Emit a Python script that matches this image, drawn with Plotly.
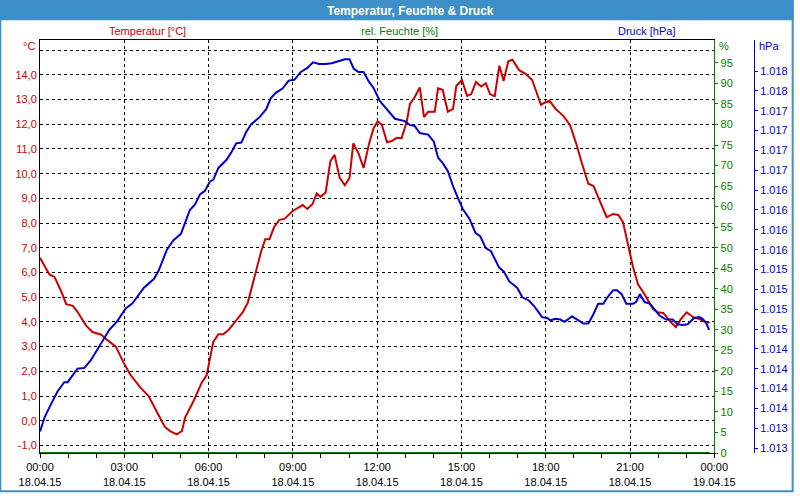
import plotly.graph_objects as go
import pandas as pd

DAY = "2015-04-18 "

temp_times = ["00:00","00:20","00:31","00:45","00:56","01:10","01:20","01:38","01:52","02:10",
              "02:24","02:42","02:59","03:13","03:35","03:52","04:10","04:27","04:38","04:52",
              "05:03","05:10","05:28","05:45","05:56","06:06","06:10","06:21","06:31","06:42",
              "06:56","07:13","07:24","07:31","07:42","07:52","08:01","08:10","08:20","08:31",
              "08:42","08:59","09:21","09:31","09:42","09:51","09:59","10:10","10:20","10:29",
              "10:40","10:51","11:01","11:09","11:20","11:31","11:42","11:52","12:01","12:10",
              "12:21","12:31","12:42","12:52","13:03","13:10","13:20","13:31","13:40","13:49",
              "14:03","14:10","14:20","14:31","14:42","14:49","15:01","15:12","15:21","15:31",
              "15:42","15:52","16:01","16:11","16:21","16:30","16:40","16:49","17:03","17:17",
              "17:31","17:42","17:50","17:56","18:08","18:21","18:38","18:52","19:06","19:17",
              "19:31","19:42","19:56","20:10","20:24","20:35","20:45","20:56","21:06","21:17",
              "21:31","21:49","21:59","22:11","22:27","22:38","22:49","23:01","23:15","23:28",
              "23:38","23:50"]
temp_vals = [6.6,5.92,5.82,5.25,4.72,4.65,4.41,3.86,3.59,3.49,
             3.26,3.00,2.33,1.86,1.33,1.00,0.34,-0.26,-0.42,-0.55,
             -0.42,0.14,0.80,1.53,1.85,2.73,3.19,3.50,3.50,3.66,
             3.99,4.39,4.79,5.32,6.12,6.84,7.35,7.35,7.84,8.13,
             8.17,8.48,8.73,8.57,8.77,9.20,9.06,9.24,10.5,10.76,
             9.83,9.53,9.83,11.23,10.83,10.23,11.16,11.82,12.12,11.98,
             11.27,11.32,11.45,11.43,12.09,12.82,13.09,13.49,12.29,12.51,
             12.51,13.45,13.39,12.51,12.62,13.55,13.79,13.15,13.22,13.71,
             13.53,13.66,13.22,13.13,14.37,13.75,14.55,14.61,14.19,14.04,
             13.79,13.22,12.78,12.86,12.95,12.62,12.33,11.96,11.16,10.43,
             9.59,9.50,8.90,8.24,8.37,8.33,8.04,7.11,6.25,5.52,
             5.12,4.52,4.39,4.36,3.99,3.79,4.12,4.39,4.19,4.12,
             4.02,3.96]

press_times = ["00:00","00:10","00:24","00:38","00:52","00:59","01:20","01:35","01:49","02:06",
               "02:28","02:45","03:03","03:17","03:42","04:03","04:13","04:31","04:45","05:01",
               "05:20","05:31","05:42","05:52","06:03","06:10","06:21","06:38","06:49","06:59",
               "07:10","07:20","07:31","07:49","08:03","08:13","08:24","08:38","08:51","09:03",
               "09:17","09:31","09:43","09:56","10:10","10:23","10:37","10:51","11:01","11:10",
               "11:20","11:31","11:42","11:52","12:06","12:21","12:38","12:59","13:10","13:20",
               "13:31","13:49","14:01","14:10","14:20","14:31","14:42","14:52","15:03","15:17",
               "15:30","15:40","15:52","16:03","16:20","16:31","16:42","16:59","17:10","17:24",
               "17:35","17:45","17:52","18:03","18:10","18:21","18:31","18:40","18:56","19:10",
               "19:20","19:31","19:42","19:52","20:03","20:13","20:24","20:32","20:42","20:52",
               "21:06","21:13","21:21","21:31","21:42","21:52","22:03","22:17","22:31","22:42",
               "22:52","23:03","23:17","23:28","23:35","23:43","23:49"]
press_vals = [1013.21,1013.39,1013.56,1013.72,1013.83,1013.83,1014.00,1014.01,1014.11,1014.28,
              1014.49,1014.60,1014.76,1014.82,1015.02,1015.13,1015.23,1015.50,1015.62,1015.70,
              1016.00,1016.07,1016.20,1016.24,1016.36,1016.38,1016.53,1016.63,1016.73,1016.84,
              1016.85,1016.98,1017.08,1017.17,1017.27,1017.41,1017.48,1017.53,1017.63,1017.64,
              1017.74,1017.79,1017.86,1017.84,1017.84,1017.85,1017.88,1017.90,1017.90,1017.78,
              1017.74,1017.74,1017.62,1017.54,1017.37,1017.26,1017.15,1017.12,1017.07,1017.06,
              1016.97,1016.95,1016.86,1016.66,1016.59,1016.49,1016.30,1016.16,1016.01,1015.89,
              1015.71,1015.67,1015.52,1015.48,1015.28,1015.22,1015.10,1015.02,1014.90,1014.86,
              1014.79,1014.71,1014.65,1014.64,1014.61,1014.63,1014.62,1014.59,1014.66,1014.61,
              1014.57,1014.57,1014.69,1014.82,1014.82,1014.91,1014.99,1014.99,1014.94,1014.82,
              1014.82,1014.84,1014.94,1014.84,1014.82,1014.75,1014.67,1014.62,1014.62,1014.56,
              1014.55,1014.56,1014.64,1014.65,1014.63,1014.57,1014.49]

hum_times = ["00:00", "23:50"]
hum_vals = [0, 0]

x_tick_times = ["2015-04-18 00:00", "2015-04-18 03:00", "2015-04-18 06:00", "2015-04-18 09:00",
                "2015-04-18 12:00", "2015-04-18 15:00", "2015-04-18 18:00", "2015-04-18 21:00",
                "2015-04-19 00:00"]
temp_ticks = list(range(-1, 16))
hum_ticks = list(range(0, 100, 5))
press_ticks = [1013 + 0.25 * k for k in range(20)]

assert len(temp_times) == len(temp_vals)
assert len(press_times) == len(press_vals)

RED = "#cc0000"
GREEN = "#008000"
BLUE = "#0000cc"
FONT = "Liberation Sans"

W, H = 800, 500
ML, MR, MT, MB = 40, 40, 40, 40
PW, PH = W - ML - MR, H - MT - MB


def px(x):
    return (x - ML) / PW


def py(y):
    return (H - MB - y) / PH


def to_dt(ts):
    return pd.to_datetime([DAY + t for t in ts])


fig = go.Figure()
fig.add_trace(go.Scatter(x=to_dt(hum_times), y=hum_vals, yaxis="y2", mode="lines",
                         line=dict(color=GREEN, width=2), showlegend=False))
fig.add_trace(go.Scatter(x=to_dt(temp_times), y=temp_vals, yaxis="y", mode="lines",
                         line=dict(color=RED, width=2), showlegend=False))
fig.add_trace(go.Scatter(x=to_dt(press_times), y=press_vals, yaxis="y3", mode="lines",
                         line=dict(color=BLUE, width=2), showlegend=False))

x_ticktext = [pd.Timestamp(t).strftime("%H:%M") + "<br>" + pd.Timestamp(t).strftime("%d.%m.%y")
              for t in x_tick_times]

temp_text = ["" if v == 15 else f"{v:.1f}".replace(".", ",") for v in temp_ticks]
press_text = [f"{int(v + 0.5):,}".replace(",", ".") for v in press_ticks]

fig.update_layout(
    width=W, height=H,
    margin=dict(l=ML, r=MR, t=MT, b=MB),
    paper_bgcolor="white", plot_bgcolor="white",
    font=dict(family=FONT, size=11, color="black"),
    xaxis=dict(
        domain=[0, 680 / PW],
        type="date",
        range=["2015-04-18 00:00", "2015-04-19 00:00"],
        tickmode="array", tickvals=x_tick_times, ticktext=x_ticktext,
        ticks="outside", ticklen=4, tickcolor="black",
        minor=dict(tick0="2015-04-18 00:00", dtick=3600000, ticks="outside", ticklen=4,
                   tickcolor="black", showgrid=False),
        showgrid=True, gridcolor="black", griddash="3px,3px", gridwidth=1,
        showline=True, linecolor="black", linewidth=1, mirror=True,
        zeroline=False, layer="below traces",
        tickfont=dict(family=FONT, size=11, color="black"),
    ),
    yaxis=dict(
        range=[-1.307, 15.41],
        tickmode="array", tickvals=temp_ticks, ticktext=temp_text,
        ticks="", showgrid=True, gridcolor="black", griddash="3px,3px", gridwidth=1,
        showline=True, linecolor="black", linewidth=1,
        zeroline=False, layer="below traces",
        tickfont=dict(family=FONT, size=11, color=RED),
    ),
    yaxis2=dict(
        overlaying="y", side="right", anchor="x",
        range=[0, 100.57],
        tickmode="array", tickvals=hum_ticks,
        ticks="outside", ticklen=3, tickcolor=GREEN,
        showgrid=False, zeroline=False,
        showline=True, linecolor=GREEN, linewidth=1,
        tickfont=dict(family=FONT, size=11, color=GREEN),
    ),
    yaxis3=dict(
        overlaying="y", side="right", anchor="free", position=1.0,
        range=[1012.938, 1018.142],
        tickmode="array", tickvals=press_ticks, ticktext=press_text,
        ticks="outside", ticklen=3, tickcolor=BLUE,
        showgrid=False, zeroline=False,
        showline=True, linecolor=BLUE, linewidth=1,
        tickfont=dict(family=FONT, size=11, color=BLUE),
    ),
    shapes=[
        dict(type="rect", xref="paper", yref="paper",
             x0=px(0), x1=px(800), y0=py(20), y1=py(0),
             fillcolor="#3d8fc7", line=dict(width=0), layer="below"),
        dict(type="rect", xref="paper", yref="paper",
             x0=px(0), x1=px(799), y0=py(499), y1=py(0),
             fillcolor="rgba(0,0,0,0)", line=dict(color="#3d8fc7", width=2)),
    ],
    annotations=[
        dict(text="<b>Temperatur, Feuchte &amp; Druck</b>", xref="paper", yref="paper",
             x=px(414), y=py(10), xanchor="center", yanchor="middle", showarrow=False,
             font=dict(family=FONT, size=12, color="white")),
        dict(text="Temperatur [°C]", xref="paper", yref="paper",
             x=px(148), y=py(31), xanchor="center", yanchor="middle", showarrow=False,
             font=dict(family=FONT, size=11, color=RED)),
        dict(text="rel. Feuchte [%]", xref="paper", yref="paper",
             x=px(403), y=py(31), xanchor="center", yanchor="middle", showarrow=False,
             font=dict(family=FONT, size=11, color=GREEN)),
        dict(text="Druck [hPa]", xref="paper", yref="paper",
             x=px(652), y=py(31), xanchor="center", yanchor="middle", showarrow=False,
             font=dict(family=FONT, size=11, color=BLUE)),
        dict(text="°C", xref="paper", yref="paper",
             x=px(37), y=py(46), xanchor="right", yanchor="middle", showarrow=False,
             font=dict(family=FONT, size=11, color=RED)),
        dict(text="%", xref="paper", yref="paper",
             x=px(723), y=py(46), xanchor="left", yanchor="middle", showarrow=False,
             font=dict(family=FONT, size=11, color=GREEN)),
        dict(text="hPa", xref="paper", yref="paper",
             x=px(763), y=py(46), xanchor="left", yanchor="middle", showarrow=False,
             font=dict(family=FONT, size=11, color=BLUE)),
    ],
)

fig.write_html("out.html")
